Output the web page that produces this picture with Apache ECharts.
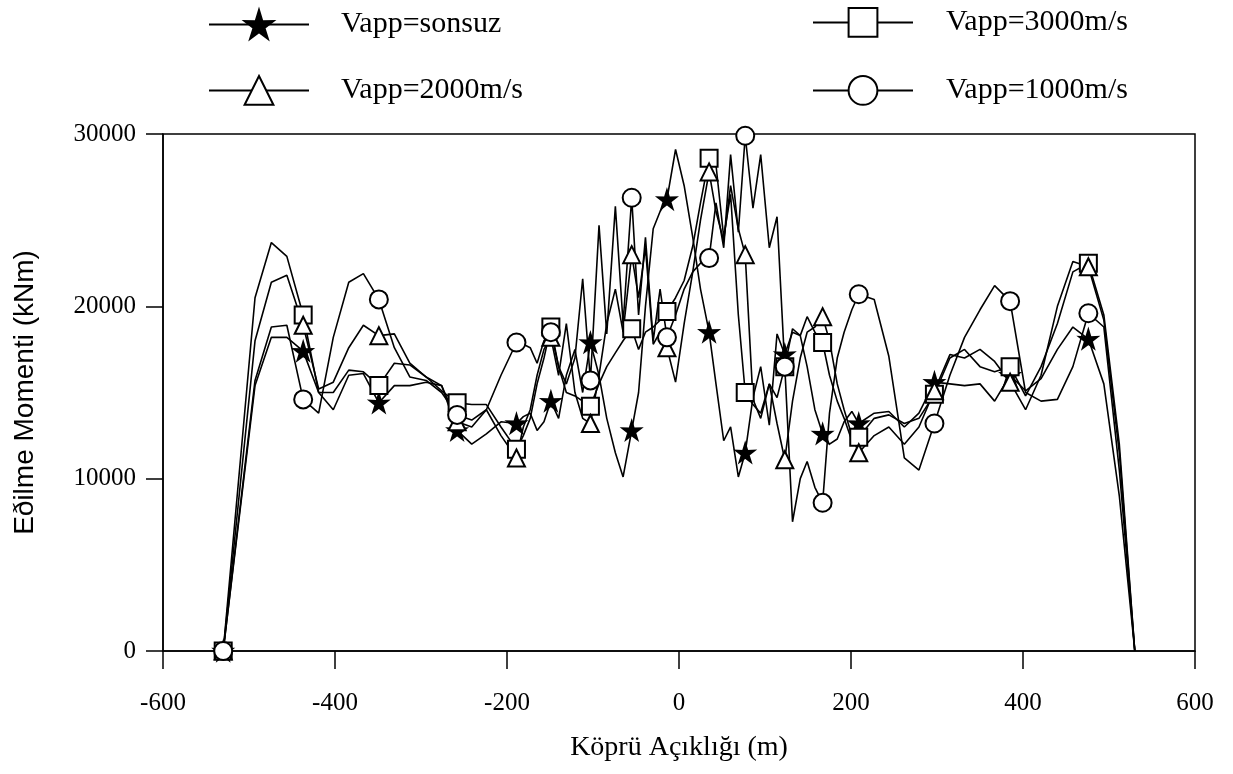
<!DOCTYPE html>
<html>
<head>
<meta charset="utf-8">
<script src="https://cdn.jsdelivr.net/npm/echarts@6/dist/echarts.min.js"></script>
<style>html,body{margin:0;padding:0;background:#fff;}#c{width:1233px;height:774px;}</style>
</head>
<body>
<div id="c"></div>
<script>
// Bridge span positions (m)
const xPos = [-530,-493,-474,-456,-437,-419,-402,-384,-367,-349,-331,-313,-294,-276,-258,-241,-224,-207,-189,-181,-173,-165,-157,-149,-140,-131,-121,-112,-103,-93,-84,-74,-65,-55,-47,-39,-30,-22,-14,-4,6,16,25,35,43,52,60,69,77,86,95,105,114,123,132,141,149,158,167,175,184,192,201,209,227,244,262,279,297,315,332,350,367,385,403,421,440,458,476,494,512,530];
// Positions where markers are drawn
const markerX = [-530,-437,-349,-258,-189,-149,-103,-55,-14,35,77,123,167,209,297,385,476];
// Bending moment (kNm)
const starVals = [0,15400,18200,18200,17400,15000,14000,16000,16100,14400,15400,15400,15600,15400,12800,12000,12600,13300,13200,13600,13800,12800,13300,14500,13500,16000,17500,15000,17900,16000,13500,11500,10100,12800,15000,20000,24500,25500,26200,29100,27000,24000,21000,18500,15500,12200,13000,10100,11500,14700,16500,13100,18400,17200,18500,18300,16500,14000,12600,12000,12300,13300,13900,13200,13800,13900,13000,13800,15600,15500,15400,15500,14500,16000,15100,15800,17500,18800,18100,15500,9000,0];
const squareVals = [0,20500,23700,22900,19500,15000,15000,16300,16200,15400,16700,16600,15900,15100,14400,14300,14300,13000,11700,12500,13500,15500,17000,18800,16500,15000,14800,14500,14200,15500,16500,17300,18000,18700,17500,18500,18800,19200,19700,20500,21500,23500,26000,28600,28200,24000,26500,19500,15000,14300,13800,15500,14700,16500,18700,18300,19400,18500,17900,16000,14500,13500,12200,12400,13500,13700,13200,13500,14900,17000,17500,16500,16200,16500,14800,16500,19000,22000,22500,19500,12000,0];
const triVals = [0,18000,21400,21800,18900,15200,15600,17600,18900,18300,18400,16700,15900,15400,13300,13000,14000,12500,11200,13000,14000,16000,17500,18200,16000,19000,15000,13500,13200,16000,19000,21000,18500,23000,20500,23400,17800,18500,17600,15600,19000,22000,25000,27800,25500,23800,27000,24500,23000,14600,13500,15500,13200,11100,14500,17000,18500,18800,19400,18000,15500,14000,12500,11500,12500,13000,12000,13000,15100,17200,17000,17500,16800,15600,14000,16000,20000,22600,22300,19200,11500,0];
const circVals = [0,15700,18800,18900,14600,13800,18200,21400,21900,20400,17600,15900,15700,15000,13700,13400,14000,16000,17900,17800,17600,16700,18000,18500,16500,15500,17000,21600,15700,24700,18400,25800,19000,26300,19500,24000,18000,21000,18200,19500,21000,22000,22500,22800,26000,23400,28800,24300,29900,25700,28800,23400,25200,16500,7500,10000,11000,9500,8600,13800,17000,18500,19800,20700,20400,17100,11200,10500,13200,16000,18200,19800,21200,20300,15000,14500,14600,16500,19600,18800,10500,0];
const xTicks = [-600,-400,-200,0,200,400,600];
const yTicks = [0,10000,20000,30000];

const names = ['Vapp=sonsuz','Vapp=3000m/s','Vapp=2000m/s','Vapp=1000m/s'];
const STAR = 'path://M50,0 L61.2,35.6 L97.6,34.5 L68.1,56.4 L79.4,90.5 L50,69.5 L20.6,90.5 L31.9,56.4 L2.4,34.5 L38.8,35.6 Z';

function pts(vals){ return xPos.map((x,i)=>[x, vals[i]]); }
function mk(name, vals, symbol, size){
  return {
    name: name, type: 'line', data: pts(vals),
    symbol: symbol, showAllSymbol: true,
    symbolSize: function(v){ return markerX.indexOf(v[0]) >= 0 ? size : 0; },
    lineStyle: {color:'#000', width:1.6},
    itemStyle: {color:'#000', borderColor:'#000', borderWidth:2},
    emphasis: {disabled:true},
    animation: false
  };
}

const chart = echarts.init(document.getElementById('c'));
const legTxt = {fontFamily:'Liberation Serif', fontSize:30, color:'#000'};
function leg(name, left, top, pad){
  return {data:[name], left:left, top:top, itemWidth:100, itemHeight:36, selectedMode:false,
    textStyle: Object.assign({padding:[6,0,0,pad]}, legTxt)};
}
chart.setOption({
  backgroundColor:'#fff',
  animation:false,
  legend:[leg(names[0],203,4,27), leg(names[1],807,2,28), leg(names[2],203,70,27), leg(names[3],807,70,28)],
  grid:{left:163, right:38, top:134, bottom:123, show:true, borderColor:'#000', borderWidth:1.5, backgroundColor:'transparent'},
  xAxis:{type:'value', min:xTicks[0], max:xTicks[xTicks.length-1], interval:200,
    name:'Köprü Açıklığı (m)', nameLocation:'middle', nameGap:83,
    nameTextStyle:{fontFamily:'Liberation Serif', fontSize:28, color:'#000'},
    axisLine:{show:true, onZero:false, lineStyle:{color:'#000', width:1.5}},
    axisTick:{show:true, inside:false, length:18, lineStyle:{color:'#000', width:1.5}},
    axisLabel:{margin:40, fontFamily:'Liberation Serif', fontSize:25, color:'#000'},
    splitLine:{show:false}},
  yAxis:{type:'value', min:yTicks[0], max:yTicks[yTicks.length-1], interval:10000,
    name:'Eðilme Momenti (kNm)', nameLocation:'middle', nameGap:124,
    nameTextStyle:{fontFamily:'Liberation Sans', fontSize:28, color:'#000'},
    axisLine:{show:true, onZero:false, lineStyle:{color:'#000', width:1.5}},
    axisTick:{show:true, inside:false, length:17, lineStyle:{color:'#000', width:1.5}},
    axisLabel:{margin:27, fontFamily:'Liberation Serif', fontSize:25, color:'#000', formatter:function(v){return String(v);}},
    splitLine:{show:false}},
  series:[
    mk(names[0], starVals, STAR, 18),
    mk(names[1], squareVals, 'emptyRect', 17),
    mk(names[2], triVals, 'emptyTriangle', 17),
    mk(names[3], circVals, 'emptyCircle', 18)
  ]
});
</script>
</body>
</html>
